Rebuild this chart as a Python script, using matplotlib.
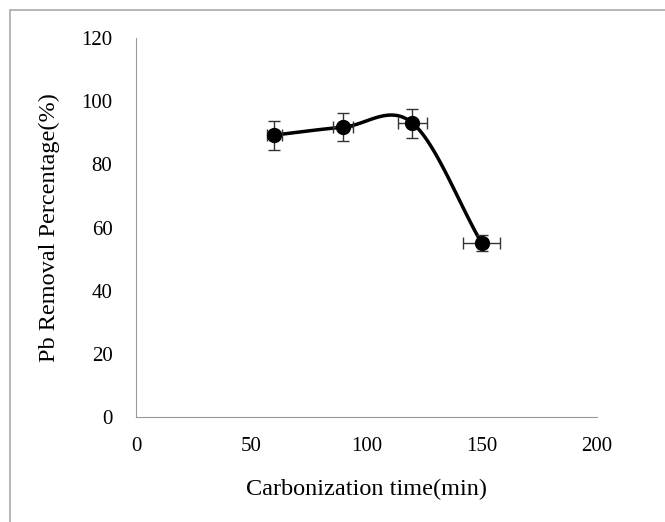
import numpy as np
import matplotlib.pyplot as plt

plt.rcParams['font.family'] = ['Liberation Serif', 'DejaVu Serif']

# data
time_min = [60, 90, 120, 150]
removal = [89.3, 91.8, 93.1, 55.1]
y_err = [4.6, 4.5, 4.6, 2.5]
x_err = [3.3, 4.3, 6.5, 8.0]


def smooth(xs, ys, n=40):
    # Catmull-Rom style curve like the spreadsheet "smoothed line"
    xs = np.asarray(xs, float)
    ys = np.asarray(ys, float)
    px = np.concatenate([[2 * xs[0] - xs[1]], xs, [2 * xs[-1] - xs[-2]]])
    py = np.concatenate([[2 * ys[0] - ys[1]], ys, [2 * ys[-1] - ys[-2]]])
    outx, outy = [], []
    for i in range(1, len(px) - 2):
        t = np.linspace(0, 1, n)
        for arr, out in ((px, outx), (py, outy)):
            p0, p1, p2, p3 = arr[i - 1], arr[i], arr[i + 1], arr[i + 2]
            out.extend(0.5 * ((2 * p1) + (-p0 + p2) * t
                              + (2 * p0 - 5 * p1 + 4 * p2 - p3) * t ** 2
                              + (-p0 + 3 * p1 - 3 * p2 + p3) * t ** 3))
    return outx, outy


fig = plt.figure(figsize=(6.65, 5.22), dpi=100)
ax = fig.add_axes([0.2045, 0.201, 0.693, 0.726])

sx, sy = smooth(time_min, removal)
ax.plot(sx, sy, color='black', lw=2.5, zorder=3)
ax.errorbar(time_min, removal, yerr=y_err, xerr=x_err, fmt='o', color='black',
            ecolor='#333333', elinewidth=1, capsize=4, markersize=10, zorder=4)

ax.set_xlim(0, 200)
ax.set_ylim(0, 120)
ax.set_xticks([0, 50, 100, 150, 200])
ax.set_yticks([0, 20, 40, 60, 80, 100, 120])
ax.tick_params(length=0, labelsize=15)
ax.tick_params(axis='x', pad=14)
ax.tick_params(axis='y', pad=17)
for s in ['top', 'right']:
    ax.spines[s].set_visible(False)
for s in ['left', 'bottom']:
    ax.spines[s].set_color('#999999')

ax.set_xlabel('Carbonization time(min)', fontsize=17.5, labelpad=17)
ax.set_ylabel('Pb Removal Percentage(%)', fontsize=17.5, labelpad=15)

# outer chart frame (cut off at the right and bottom in the reference)
fig.patches.append(plt.Rectangle((0.015, -0.1), 1.2, 1.081, transform=fig.transFigure,
                                 fill=False, edgecolor='#aaaaaa', lw=1.2))

fig.savefig('out.png', dpi=100)
